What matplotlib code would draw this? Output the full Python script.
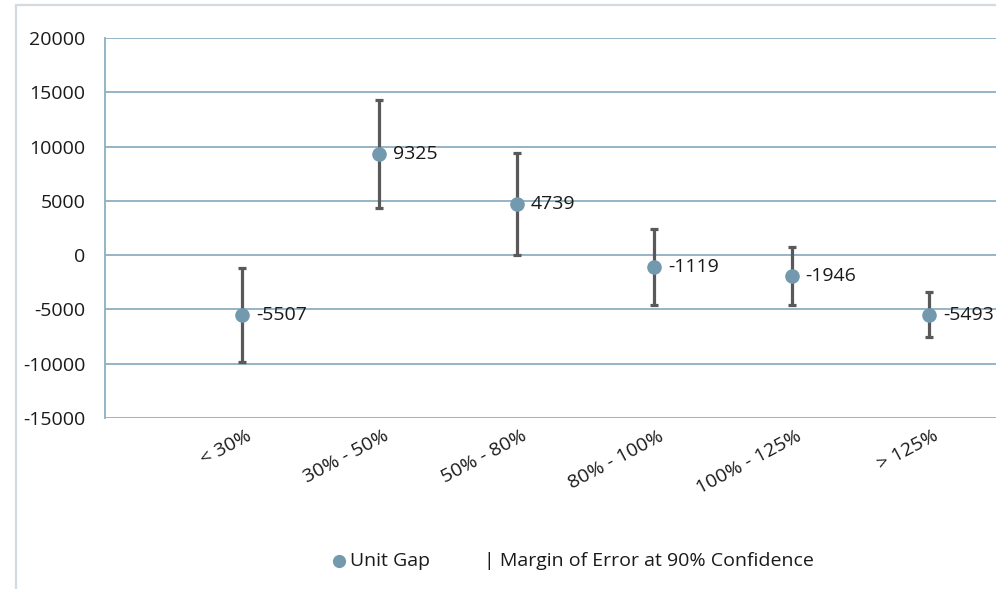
import matplotlib
matplotlib.use("Agg")
import matplotlib.pyplot as plt
from matplotlib.patches import Rectangle
from matplotlib.lines import Line2D
import matplotlib.transforms as mtransforms

plt.rcParams['font.family'] = ['Open Sans', 'DejaVu Sans']

categories = ["< 30%", "30% - 50%", "50% - 80%", "80% - 100%", "100% - 125%", "> 125%"]
unit_gap = [-5507, 9325, 4739, -1119, -1946, -5493]
margin_of_error = [4300, 4950, 4700, 3500, 2680, 2070]
y_ticks = [-15000, -10000, -5000, 0, 5000, 10000, 15000, 20000]

W, H = 996, 589
FS = 14
fig = plt.figure(figsize=(W / 100, H / 100), dpi=100)

# outer chart border
fig.patches.append(Rectangle((16 / W, -0.05), 1.1, 1 - 5 / H + 0.05, transform=fig.transFigure,
                             fill=False, edgecolor='#D3DAE2', linewidth=1.6, zorder=0))

ax = fig.add_axes([104.6 / W, 1 - 418 / H, (6.5 * 137.4) / W, (418 - 38) / H])
x = list(range(1, len(categories) + 1))

point_color = '#7399AE'
grid_color = '#8FAFC0'

ax.errorbar(x, unit_gap, yerr=margin_of_error, fmt='none', ecolor='#595959',
            elinewidth=2.3, capsize=2.9, capthick=2.3, zorder=3)
ax.plot(x, unit_gap, 'o', color=point_color, markersize=9.5, zorder=4)

for xi, v in zip(x, unit_gap):
    ax.annotate(str(v), (xi, v), xytext=(10, 0), textcoords='offset points',
                va='center', ha='left', fontsize=FS, color='#1a1a1a', zorder=5,
                annotation_clip=False)

ax.set_xlim(0, 6.5)
ax.set_ylim(-15000, 20000)
ax.set_yticks(y_ticks)
ax.set_yticklabels([str(t) for t in y_ticks], fontsize=FS, color='#1a1a1a')
ax.tick_params(axis='y', length=0, pad=14)
ax.tick_params(axis='x', length=0)
ax.set_xticks(x)
ax.set_xticklabels(categories, rotation=28, ha='right', rotation_mode='anchor',
                   fontsize=FS, color='#1a1a1a')
offset = mtransforms.ScaledTranslation(4 / 100, -4 / 100, fig.dpi_scale_trans)
for lbl in ax.get_xticklabels():
    lbl.set_transform(lbl.get_transform() + offset)

ax.grid(axis='y', color=grid_color, linewidth=1.3)
ax.set_axisbelow(True)
for s in ['top', 'right', 'bottom']:
    ax.spines[s].set_visible(False)
ax.spines['left'].set_color(grid_color)
ax.spines['left'].set_linewidth(1.3)

# legend
fig.lines.append(Line2D([339 / W], [1 - 561 / H], marker='o', color=point_color,
                        markersize=8.5, transform=fig.transFigure, linestyle='none'))
fig.text(350 / W, 1 - 561 / H, "Unit Gap", fontsize=FS, va='center', ha='left', color='#1a1a1a')
fig.text(484 / W, 1 - 561 / H, "| Margin of Error at 90% Confidence", fontsize=FS,
         va='center', ha='left', color='#1a1a1a')

fig.savefig("out.png", dpi=100)
